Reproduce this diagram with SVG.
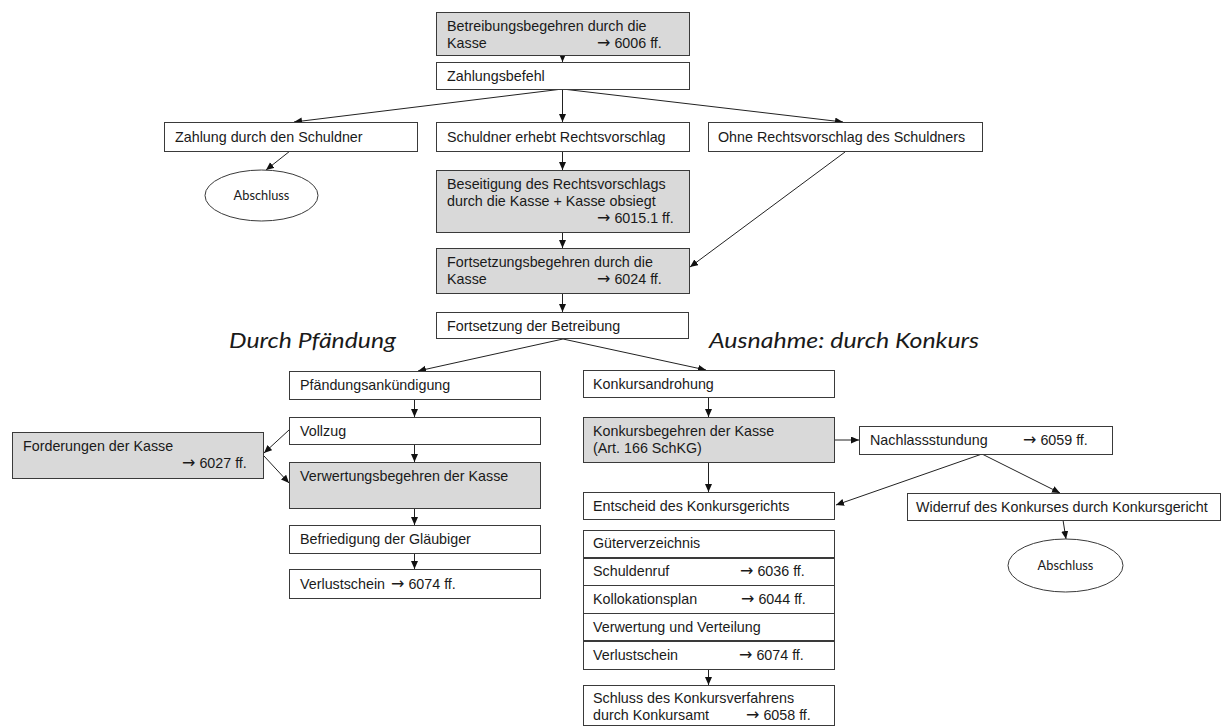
<svg xmlns="http://www.w3.org/2000/svg" width="1224" height="727" viewBox="0 0 1224 727">
<style>
.b{fill:#fff;stroke:#3a3a3a;stroke-width:1}
.g{fill:#d9d9d9;stroke:#3a3a3a;stroke-width:1}
.e{fill:#fff;stroke:#3a3a3a;stroke-width:1}
text{font-family:"Liberation Sans",Arial,sans-serif;font-size:14.3px;fill:#1a1a1a}
tspan.ar{font-family:"DejaVu Sans",sans-serif;font-size:16px}
text.s{font-family:Lato,"Open Sans",sans-serif;font-size:12.8px;text-anchor:middle}
text.h{font-family:Lato,"Open Sans",sans-serif;font-size:22px;font-style:italic}
.c line{stroke:#222;stroke-width:1;marker-end:url(#a)}
</style>
<defs>
<marker id="a" markerUnits="userSpaceOnUse" markerWidth="9" markerHeight="8" refX="8" refY="3.5" orient="auto">
<path d="M0,0 L8,3.5 L0,7 z" fill="#111"/>
</marker>
</defs>
<rect width="1224" height="727" fill="#fff"/>

<g class="c" id="connectors">
<line x1="562.5" y1="55" x2="562.5" y2="62"/>
<line x1="562.5" y1="89" x2="294" y2="122"/>
<line x1="562.5" y1="89" x2="562.5" y2="122"/>
<line x1="562.5" y1="89" x2="843" y2="122"/>
<line x1="290" y1="151" x2="266" y2="170"/>
<line x1="562.5" y1="151" x2="562.5" y2="170"/>
<line x1="562.5" y1="232" x2="562.5" y2="248"/>
<line x1="845" y1="152" x2="690" y2="267"/>
<line x1="562.5" y1="293" x2="562.5" y2="312"/>
<line x1="563" y1="339" x2="418" y2="371"/>
<line x1="563" y1="339" x2="706" y2="370"/>
<line x1="414.5" y1="399" x2="414.5" y2="417"/>
<line x1="414.5" y1="444" x2="414.5" y2="462"/>
<line x1="289" y1="430" x2="264" y2="453"/>
<line x1="264" y1="456" x2="289" y2="483"/>
<line x1="414.5" y1="508" x2="414.5" y2="525"/>
<line x1="414.5" y1="553" x2="414.5" y2="569"/>
<line x1="708.5" y1="397" x2="708.5" y2="417"/>
<line x1="708.5" y1="462" x2="708.5" y2="492"/>
<line x1="834" y1="440" x2="859" y2="440"/>
<line x1="982" y1="454" x2="836" y2="505"/>
<line x1="982" y1="454" x2="1060" y2="493"/>
<line x1="1063" y1="520" x2="1066" y2="539"/>
<line x1="708.5" y1="669" x2="708.5" y2="685"/>
</g>

<g id="betreibungsbegehren">
<rect class="g" x="436.5" y="12.5" width="253" height="43"/>
<text x="447" y="31">Betreibungsbegehren durch die</text>
<text x="447" y="48">Kasse<tspan x="597" class="ar">→</tspan> 6006 ff.</text>
</g>
<g id="zahlungsbefehl">
<rect class="b" x="436.5" y="62.5" width="253" height="27"/>
<text x="447" y="81">Zahlungsbefehl</text>
</g>
<g id="zahlung">
<rect class="b" x="164.5" y="122.5" width="253" height="29"/>
<text x="175" y="142">Zahlung durch den Schuldner</text>
</g>
<g id="rechtsvorschlag">
<rect class="b" x="436.5" y="122.5" width="253" height="29"/>
<text x="447" y="142">Schuldner erhebt Rechtsvorschlag</text>
</g>
<g id="ohne">
<rect class="b" x="708.5" y="122.5" width="274" height="29"/>
<text x="718" y="142">Ohne Rechtsvorschlag des Schuldners</text>
</g>
<g id="abschluss1">
<ellipse class="e" cx="261.5" cy="195.5" rx="56.5" ry="25.5"/>
<text class="s" x="261.5" y="200">Abschluss</text>
</g>
<g id="beseitigung">
<rect class="g" x="436.5" y="170.5" width="253" height="62"/>
<text x="447" y="189">Beseitigung des Rechtsvorschlags</text>
<text x="447" y="206">durch die Kasse + Kasse obsiegt</text>
<text y="223"><tspan x="597" class="ar">→</tspan> 6015.1 ff.</text>
</g>
<g id="fortsetzungsbegehren">
<rect class="g" x="436.5" y="248.5" width="253" height="45"/>
<text x="447" y="267">Fortsetzungsbegehren durch die</text>
<text x="447" y="284">Kasse<tspan x="597" class="ar">→</tspan> 6024 ff.</text>
</g>
<g id="fortsetzung">
<rect class="b" x="436.5" y="312.5" width="252" height="26"/>
<text x="447" y="331">Fortsetzung der Betreibung</text>
</g>

<g id="headings">
<text class="h" x="229" y="348" textLength="167" lengthAdjust="spacingAndGlyphs">Durch Pfändung</text>
<text class="h" x="709" y="348" textLength="270" lengthAdjust="spacingAndGlyphs">Ausnahme: durch Konkurs</text>
</g>

<g id="pfaendungsankuendigung">
<rect class="b" x="289.5" y="371.5" width="251" height="28"/>
<text x="300" y="390">Pfändungsankündigung</text>
</g>
<g id="vollzug">
<rect class="b" x="289.5" y="417.5" width="251" height="27"/>
<text x="300" y="436">Vollzug</text>
</g>
<g id="forderungen">
<rect class="g" x="12.5" y="432.5" width="251" height="46"/>
<text x="23" y="451">Forderungen der Kasse</text>
<text y="468"><tspan x="182" class="ar">→</tspan> 6027 ff.</text>
</g>
<g id="verwertungsbegehren">
<rect class="g" x="289.5" y="462.5" width="251" height="46"/>
<text x="300" y="481">Verwertungsbegehren der Kasse</text>
</g>
<g id="befriedigung">
<rect class="b" x="289.5" y="525.5" width="251" height="28"/>
<text x="300" y="544">Befriedigung der Gläubiger</text>
</g>
<g id="verlustschein1">
<rect class="b" x="289.5" y="569.5" width="251" height="29"/>
<text x="300" y="589">Verlustschein<tspan x="391" class="ar">→</tspan> 6074 ff.</text>
</g>

<g id="konkursandrohung">
<rect class="b" x="583.5" y="370.5" width="251" height="27"/>
<text x="593" y="389">Konkursandrohung</text>
</g>
<g id="konkursbegehren">
<rect class="g" x="583.5" y="417.5" width="251" height="45"/>
<text x="593" y="436">Konkursbegehren der Kasse</text>
<text x="593" y="453">(Art. 166 SchKG)</text>
</g>
<g id="nachlassstundung">
<rect class="b" x="859.5" y="426.5" width="253" height="28"/>
<text x="870" y="445">Nachlassstundung<tspan x="1023" class="ar">→</tspan> 6059 ff.</text>
</g>
<g id="entscheid">
<rect class="b" x="583.5" y="492.5" width="251" height="27"/>
<text x="593" y="511">Entscheid des Konkursgerichts</text>
</g>
<g id="widerruf">
<rect class="b" x="907.5" y="493.5" width="313" height="27"/>
<text x="916" y="512">Widerruf des Konkurses durch Konkursgericht</text>
</g>
<g id="abschluss2">
<ellipse class="e" cx="1065.5" cy="565.5" rx="57.5" ry="26.5"/>
<text class="s" x="1065.5" y="570">Abschluss</text>
</g>

<g id="konkursverfahren">
<rect class="b" x="583.5" y="530.5" width="251" height="27"/>
<text x="593" y="548">Güterverzeichnis</text>
<rect class="b" x="583.5" y="558.5" width="251" height="27"/>
<text x="593" y="576">Schuldenruf<tspan x="740" class="ar">→</tspan> 6036 ff.</text>
<rect class="b" x="583.5" y="585.5" width="251" height="28"/>
<text x="593" y="604">Kollokationsplan<tspan x="741" class="ar">→</tspan> 6044 ff.</text>
<rect class="b" x="583.5" y="613.5" width="251" height="27"/>
<text x="593" y="632">Verwertung und Verteilung</text>
<rect class="b" x="583.5" y="641.5" width="251" height="28"/>
<text x="593" y="660">Verlustschein<tspan x="739" class="ar">→</tspan> 6074 ff.</text>
</g>
<g id="schluss">
<rect class="b" x="583.5" y="685.5" width="251" height="40"/>
<text x="593" y="703">Schluss des Konkursverfahrens</text>
<text x="593" y="720">durch Konkursamt<tspan x="746" class="ar">→</tspan> 6058 ff.</text>
</g>
</svg>
